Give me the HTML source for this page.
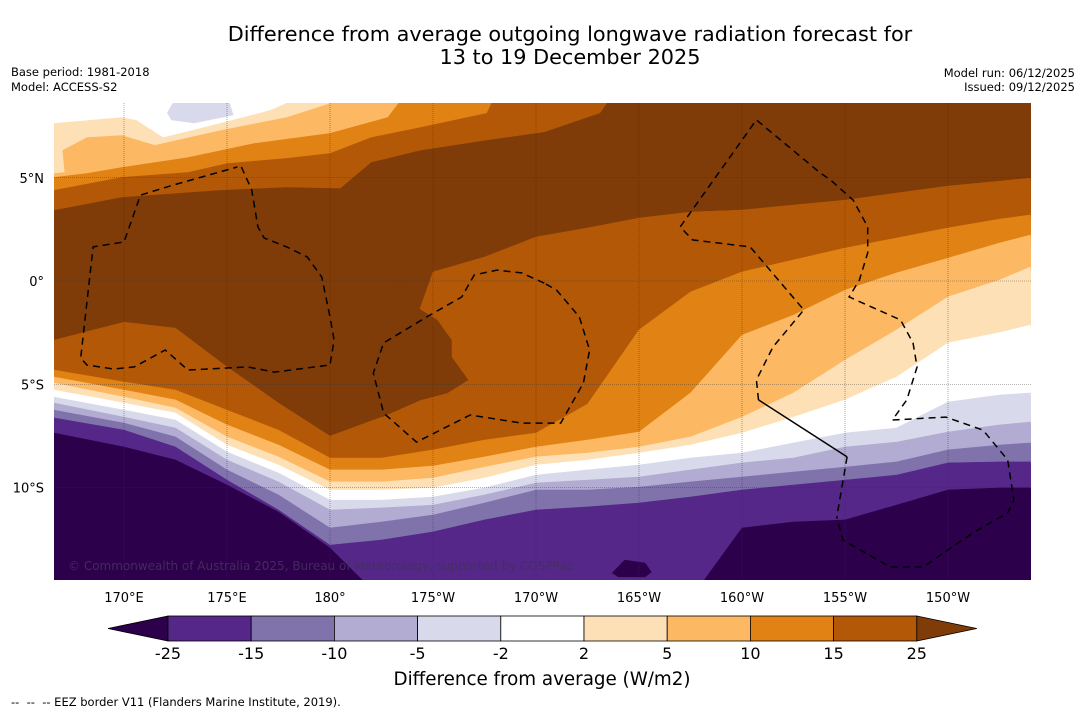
<!DOCTYPE html>
<html><head><meta charset="utf-8"><style>
html,body{margin:0;padding:0;background:#fff;}
body{width:1085px;height:713px;overflow:hidden;font-family:"Liberation Sans","DejaVu Sans",sans-serif;}
svg text{font-family:"DejaVu Sans","Liberation Sans",sans-serif;}
</style></head><body>
<svg id="chart" width="1085" height="713" viewBox="0 0 1085 713" xmlns="http://www.w3.org/2000/svg">
<defs><clipPath id="mapclip"><rect x="54" y="103" width="977" height="477"/></clipPath></defs>
<text x="570" y="41" text-anchor="middle" font-size="20.8" fill="#000">Difference from average outgoing longwave radiation forecast for</text>
<text x="570" y="64" text-anchor="middle" font-size="20.8" fill="#000">13 to 19 December 2025</text>
<text x="11" y="76" font-size="11.5">Base period: 1981-2018</text>
<text x="11" y="91" font-size="11.5">Model: ACCESS-S2</text>
<text x="1075" y="77" font-size="11.5" text-anchor="end">Model run: 06/12/2025</text>
<text x="1075" y="91" font-size="11.5" text-anchor="end">Issued: 09/12/2025</text>
<g id="map" clip-path="url(#mapclip)"></g>
<g id="axes"></g>
<g id="cbar"></g>
<text x="542" y="685" text-anchor="middle" font-size="18.3">Difference from average (W/m2)</text>
<text x="11" y="706" font-size="11.5" xml:space="preserve">--  --  -- EEZ border V11 (Flanders Marine Institute, 2019).</text>
</svg>
<script>
// longitude grid (degrees east) used by southern contour boundaries
const gridLons = [166.6,170,172.5,175,177.5,180,182.5,185,187.5,190,192.5,195,197.5,200,202.5,205,207.5,210,212.5,214];
// southern contour boundaries: latitude of each level at gridLons
const south25 = [-2.86,-1.99,-2.28,-4.16,-5.91,-7.51,-6.59,0.44,1.16,2.13,2.57,3.05,3.34,3.44,3.68,3.92,4.26,4.60,4.84,4.99];
const south15 = [-4.31,-4.89,-5.28,-6.25,-7.22,-8.57,-8.57,-8.18,-7.70,-7.36,-5.96,-2.37,-0.53,0.44,1.02,1.60,2.08,2.57,3.00,3.20];
const south10 = [-4.65,-5.28,-5.76,-6.97,-7.94,-9.15,-9.15,-8.96,-8.52,-8.04,-7.70,-7.31,-5.42,-2.62,-1.65,-0.44,0.39,1.11,1.84,2.23];
const south5  = [-4.94,-5.62,-6.15,-7.55,-8.52,-9.73,-9.73,-9.54,-9.01,-8.52,-8.33,-8.04,-7.55,-6.59,-5.42,-3.83,-2.37,-0.77,0.05,0.68];
const south2  = [-5.28,-5.91,-6.39,-7.94,-8.91,-10.12,-10.12,-10.02,-9.54,-8.91,-8.67,-8.33,-7.94,-7.36,-6.59,-5.76,-4.65,-3.00,-2.50,-2.13];
const southM2 = [-5.62,-6.25,-6.73,-8.28,-9.30,-10.61,-10.61,-10.46,-10.02,-9.40,-9.15,-8.91,-8.57,-8.33,-7.84,-7.36,-7.12,-5.86,-5.52,-5.42];
const southM5 = [-5.91,-6.59,-7.12,-8.67,-9.73,-11.09,-10.99,-10.85,-10.36,-9.78,-9.64,-9.49,-9.15,-8.81,-8.57,-8.04,-7.80,-7.31,-6.97,-6.83];
const southM10= [-6.25,-6.88,-7.55,-9.15,-10.36,-11.96,-11.67,-11.33,-10.75,-10.12,-10.12,-9.98,-9.73,-9.49,-9.25,-9.01,-8.76,-8.18,-7.94,-7.84];
const southM15= [-6.63,-7.22,-8.04,-9.64,-11.09,-12.79,-12.54,-12.15,-11.57,-11.09,-10.94,-10.75,-10.46,-10.12,-9.88,-9.64,-9.40,-8.81,-8.76,-8.76];
const southM25= [-7.36,-8.04,-8.67,-9.88,-11.19,-12.93,-15.4,-15.4,-15.4,-15.4,-15.4,-15.4,-15.4,-11.96,-11.67,-11.57,-10.85,-10.12,-10.02,-10.02];
// northern regions (value below level) as [lon, lat] boundary vertices
const north25 = [[166.6,3.44],[169.9,4.07],[174.7,4.41],[177.9,4.55],[180.5,4.50],[182.0,5.76],[184.4,6.34],[187.6,6.83],[190.4,7.22],[193.1,8.14],[193.7,9.0],[166.6,9.0]];
const north15 = [[166.6,4.41],[169.9,5.04],[173.1,5.28],[175.0,5.71],[177.9,5.96],[180.0,6.20],[182.0,6.97],[184.4,7.46],[187.6,8.14],[188.0,9.0],[166.6,9.0]];
const north10 = [[166.6,5.04],[168.2,5.23],[169.9,5.52],[173.1,6.00],[176.3,6.68],[180.0,7.17],[182.8,7.94],[183.6,9.0],[166.6,9.0]];
const north5  = [[166.6,5.23],[167.1,5.28],[167.0,6.34],[168.2,6.97],[169.9,7.07],[171.5,6.59],[174.7,7.31],[177.9,7.94],[181.2,9.0],[166.6,9.0]];
const north2  = [[166.6,7.65],[169.9,7.94],[170.6,7.80],[171.9,6.97],[173.9,7.46],[177.1,8.28],[178.7,9.0],[166.6,9.0]];
const blobM2  = [[172.1,8.14],[172.6,9.0],[175.0,9.0],[175.3,8.04],[173.4,7.65],[172.3,7.80]];
const lobe25  = [[183.4,0.77],[183.7,-0.44],[184.4,-1.40],[185.2,-1.89],[185.9,-2.86],[185.9,-3.68],[186.7,-4.79],[185.7,-5.42],[184.4,-5.76],[182.5,-6.59],[181.9,-5.76]];
const blobM25 = [[193.7,-14.14],[194.3,-13.51],[195.3,-13.66],[195.6,-14.09],[195.3,-14.33],[194.0,-14.33]];
// EEZ borders
const eezWest = [[175.7,5.52],[176.2,4.41],[176.5,2.62],[176.8,2.08],[177.9,1.65],[178.9,1.16],[179.6,0.19],[180.0,-1.74],[180.2,-2.86],[180.0,-4.07],[177.3,-4.41],[176.0,-4.16],[173.1,-4.31],[172.0,-3.34],[170.5,-4.16],[169.5,-4.26],[168.2,-4.07],[167.9,-3.73],[168.5,1.65],[170.0,1.89],[170.8,4.16],[172.4,4.65],[175.5,5.52]];
const eezMid = [[190.4,-0.10],[189.3,0.39],[188.1,0.53],[187.0,0.29],[186.4,-0.77],[184.7,-1.74],[182.6,-3.00],[182.1,-4.46],[182.6,-6.39],[184.2,-7.80],[186.8,-6.49],[189.3,-6.88],[190.4,-6.88],[191.2,-6.88],[192.3,-4.94],[192.6,-3.34],[192.1,-1.74],[191.0,-0.44],[190.4,-0.10]];
const eezEast = [[200.8,-5.76],[200.7,-4.79],[201.5,-3.20],[203.0,-1.40],[200.4,1.65],[197.6,1.99],[197.0,2.62],[200.7,7.80],[203.8,5.23],[204.3,4.89],[205.4,3.92],[206.1,2.62],[206.1,1.36],[205.7,0.05],[205.2,-0.77],[207.7,-1.89],[208.3,-3.00],[208.5,-4.16],[208.0,-5.76],[207.3,-6.73],[209.9,-6.59],[211.7,-7.22],[212.9,-8.67],[213.2,-10.61],[212.9,-11.23],[211.2,-12.20],[208.8,-13.85],[207.2,-13.85],[204.9,-12.54],[204.6,-11.43]];
const eezSolid = [[200.8,-5.76],[205.1,-8.52]];
const eezSouth = [[205.1,-8.52],[204.6,-11.43]];
// axis ticks
const lonTicks = [170,175,180,185,190,195,200,205,210];
const lonLabels = ["170°E","175°E","180°","175°W","170°W","165°W","160°W","155°W","150°W"];
const latTicks = [5,0,-5,-10];
const latLabels = ["5°N","0°","5°S","10°S"];
// colorbar
const cbLevels = ["-25","-15","-10","-5","-2","2","5","10","15","25"];
const cbColors = ["#2d004b","#542788","#8073ac","#b2abd2","#d8daeb","#ffffff","#fee0b6","#fdb863","#e08214","#b35806","#7f3b08"];

const NS='http://www.w3.org/2000/svg';
const X = lon => 124 + (lon-170)*20.6;
const Y = lat => 281 - lat*20.65;
const map = document.getElementById('map');
function mk(tag, attrs, parent){const e=document.createElementNS(NS,tag);for(const k in attrs)e.setAttribute(k,attrs[k]);parent.appendChild(e);return e;}
function ptsStr(arr){return arr.map(p=>X(p[0]).toFixed(1)+','+Y(p[1]).toFixed(1)).join(' ');}
function southPoly(lats){const a=gridLons.map((l,i)=>[l,lats[i]]);a.push([215,-16],[165,-16]);return a;}

mk('rect',{x:54,y:103,width:977,height:477,fill:cbColors[10]},map);
const layers = [
 [[south25,north25],cbColors[9],'band-15-25'],
 [[lobe25],cbColors[10],'lobe-above-25'],
 [[south15,north15],cbColors[8],'band-10-15'],
 [[south10,north10],cbColors[7],'band-5-10'],
 [[south5,north5],cbColors[6],'band-2-5'],
 [[south2,north2],cbColors[5],'band-neutral'],
 [[southM2,blobM2],cbColors[4],'band-minus5-minus2'],
 [[southM5],cbColors[3],'band-minus10-minus5'],
 [[southM10],cbColors[2],'band-minus15-minus10'],
 [[southM15],cbColors[1],'band-minus25-minus15'],
 [[southM25,blobM25],cbColors[0],'band-below-minus25']
];
layers.forEach(([shapes,col,name])=>{
  shapes.forEach(s=>{
    const arr = (typeof s[0]==='number') ? southPoly(s) : s;
    const p = mk('polygon',{points:ptsStr(arr),fill:col,stroke:col,'stroke-width':0.5},map);
    
    
  });
});
// grid
lonTicks.forEach(l=>{
  const g = mk('line',{x1:X(l),x2:X(l),y1:103,y2:580,stroke:'#333','stroke-width':0.6,'stroke-dasharray':'1,1',opacity:0.7},map);
  
  
});
latTicks.forEach(l=>{
  const g = mk('line',{x1:54,x2:1031,y1:Y(l),y2:Y(l),stroke:'#333','stroke-width':0.6,'stroke-dasharray':'1,1',opacity:0.7},map);
  
  
});
// EEZ
[[eezWest,'eez-border-west'],[eezMid,'eez-border-middle'],[eezEast,'eez-border-east'],[eezSouth,'eez-border-south']].forEach(([a,n])=>{
  const e = mk('polyline',{points:ptsStr(a),fill:'none',stroke:'#000','stroke-width':1.5,'stroke-dasharray':'7,5'},map);
  
  
});
const sl = mk('polyline',{points:ptsStr(eezSolid),fill:'none',stroke:'#000','stroke-width':1.5},map);


const cp = mk('text',{x:68,y:570,'font-size':12,fill:'#45305e','fill-opacity':0.9},map);
cp.textContent='© Commonwealth of Australia 2025, Bureau of Meteorology, supported by COSPPac';


// axes labels
const axes=document.getElementById('axes');
lonTicks.forEach((l,i)=>{
  const t = mk('text',{x:X(l),y:602,'text-anchor':'middle','font-size':13},axes);
  t.textContent=lonLabels[i];
  
  
});
latTicks.forEach((l,i)=>{
  const t = mk('text',{x:44,y:Y(l)+5,'text-anchor':'end','font-size':13},axes);
  t.textContent=latLabels[i];
  
  
});
// colorbar
const cb=document.getElementById('cbar');
const cx0=168, cw=83.2, cy=616, ch=25;
const lt = mk('polygon',{points:`108,${cy+ch/2} ${cx0},${cy} ${cx0},${cy+ch}`,fill:cbColors[0],stroke:'#000','stroke-width':0.8},cb);


for(let i=0;i<9;i++){
  const r = mk('rect',{x:cx0+i*cw,y:cy,width:cw,height:ch,fill:cbColors[i+1],stroke:'#000','stroke-width':0.8},cb);
  
  
}
const xe=cx0+9*cw;
const rt = mk('polygon',{points:`${xe},${cy} ${xe+60},${cy+ch/2} ${xe},${cy+ch}`,fill:cbColors[10],stroke:'#000','stroke-width':0.8},cb);


cbLevels.forEach((v,i)=>{
  const t = mk('text',{x:cx0+i*cw,y:659,'text-anchor':'middle','font-size':16},cb);
  t.textContent=v;
  
  
});
</script>
</body></html>
